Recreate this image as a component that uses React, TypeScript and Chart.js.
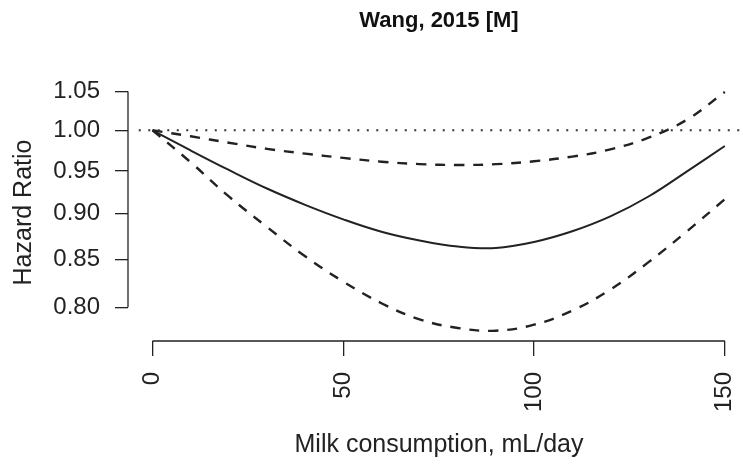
import React, { useEffect, useRef } from "react";
import { Chart, registerables } from "chart.js";

Chart.register(...registerables);

const xValues = [0, 10, 20, 30, 40, 50, 60, 70, 80, 90, 100, 110, 120, 130, 140, 150];
const hrValues = [1.0, 0.9749, 0.9512, 0.9292, 0.9103, 0.8938, 0.88, 0.8703, 0.8637, 0.8621, 0.8686, 0.8804, 0.8971, 0.9199, 0.9493, 0.9804];
const upperValues = [1.0, 0.9925, 0.9845, 0.9769, 0.971, 0.9658, 0.9612, 0.9583, 0.9572, 0.9582, 0.9617, 0.9674, 0.9762, 0.9908, 1.0133, 1.0495];
const lowerValues = [1.0, 0.9605, 0.92, 0.8852, 0.8531, 0.8263, 0.8041, 0.7879, 0.7794, 0.7767, 0.7826, 0.7966, 0.818, 0.8468, 0.8802, 0.9167];
const refX = [-3.6, 156.6];
const refY = [1.0, 1.0];
const xTicks = [0, 50, 100, 150];
const yTicks = [0.8, 0.85, 0.9, 0.95, 1.0, 1.05];
const titleText = "Wang, 2015 [M]";
const xTitle = "Milk consumption, mL/day";
const yTitle = "Hazard Ratio";

const FONT = "'Liberation Sans', Arial, sans-serif";
const INK = "#222";

const toPoints = (xs: number[], ys: number[]) => xs.map((x, i) => ({ x, y: ys[i] }));

const axisLines = {
  id: "axisLines",
  afterDraw(chart: any) {
    const { ctx, chartArea, scales } = chart;
    const xs = scales.x;
    const ys = scales.y;
    ctx.save();
    ctx.strokeStyle = INK;
    ctx.lineWidth = 1.3;
    ctx.beginPath();
    const lx = chartArea.left;
    ctx.moveTo(lx, ys.getPixelForValue(yTicks[yTicks.length - 1]));
    ctx.lineTo(lx, ys.getPixelForValue(yTicks[0]));
    const by = chartArea.bottom;
    ctx.moveTo(xs.getPixelForValue(xTicks[0]), by);
    ctx.lineTo(xs.getPixelForValue(xTicks[xTicks.length - 1]), by);
    ctx.stroke();
    ctx.restore();
  },
};

const noPad = (s: any) => {
  s.paddingLeft = 0;
  s.paddingRight = 0;
  s.paddingTop = 0;
  s.paddingBottom = 0;
};

export default function App() {
  const ref = useRef<HTMLCanvasElement | null>(null);
  useEffect(() => {
    if (!ref.current) return;
    const chart = new Chart(ref.current, {
      type: "line",
      data: {
        datasets: [
          {
            data: toPoints(refX, refY),
            borderColor: "#333",
            borderWidth: 2,
            borderDash: [2, 7.5],
            pointRadius: 0,
          },
          {
            data: toPoints(xValues, upperValues),
            borderColor: INK,
            borderWidth: 2.4,
            borderDash: [10, 9],
            pointRadius: 0,
            tension: 0.4,
          },
          {
            data: toPoints(xValues, lowerValues),
            borderColor: INK,
            borderWidth: 2.4,
            borderDash: [10, 9],
            pointRadius: 0,
            tension: 0.4,
          },
          {
            data: toPoints(xValues, hrValues),
            borderColor: INK,
            borderWidth: 2,
            pointRadius: 0,
            tension: 0.4,
          },
        ],
      },
      options: {
        responsive: false,
        animation: false,
        devicePixelRatio: 1,
        layout: { padding: 0 },
        plugins: {
          legend: { display: false },
          tooltip: { enabled: false },
          title: {
            display: true,
            text: titleText,
            fullSize: false,
            color: "#111",
            font: { family: FONT, size: 22, weight: "bold", lineHeight: 1.2 },
            padding: { top: 8, bottom: 49.6 },
          },
        },
        scales: {
          x: {
            type: "linear",
            min: -6.42,
            max: 156.6,
            afterFit: (s: any) => {
              s.height = 130;
              noPad(s);
            },
            afterBuildTicks: (s: any) => {
              s.ticks = xTicks.map((v) => ({ value: v }));
            },
            border: { display: false },
            grid: {
              display: true,
              drawOnChartArea: false,
              drawTicks: true,
              tickLength: 15,
              color: INK,
              lineWidth: 1.3,
            },
            ticks: {
              autoSkip: false,
              maxRotation: 90,
              minRotation: 90,
              padding: 16,
              color: INK,
              font: { family: FONT, size: 24 },
              callback: (v: any) => String(v),
            },
            title: {
              display: true,
              text: xTitle,
              color: INK,
              font: { family: FONT, size: 25, lineHeight: 1.2 },
              padding: { top: 0, bottom: 11 },
            },
          },
          y: {
            type: "logarithmic",
            min: 0.76667,
            max: 1.06013,
            afterFit: (s: any) => {
              s.width = 128;
              noPad(s);
            },
            afterBuildTicks: (s: any) => {
              s.ticks = yTicks.map((v) => ({ value: v }));
            },
            border: { display: false },
            grid: {
              display: true,
              drawOnChartArea: false,
              drawTicks: true,
              tickLength: 13,
              color: INK,
              lineWidth: 1.3,
            },
            ticks: {
              autoSkip: false,
              padding: 15,
              color: INK,
              font: { family: FONT, size: 24 },
              callback: (v: any) => Number(v).toFixed(2),
            },
            title: {
              display: true,
              text: yTitle,
              color: INK,
              font: { family: FONT, size: 25, lineHeight: 1.2 },
              padding: { top: 9, bottom: 0 },
            },
          },
        },
      },
      plugins: [axisLines],
    });
    return () => chart.destroy();
  }, []);
  return (
    <div
      style={{
        position: "fixed",
        left: 0,
        top: 0,
        width: 743,
        height: 471,
        overflow: "hidden",
        background: "#fff",
      }}
    >
      <canvas ref={ref} width={750} height={471} style={{ display: "block" }} />
    </div>
  );
}
